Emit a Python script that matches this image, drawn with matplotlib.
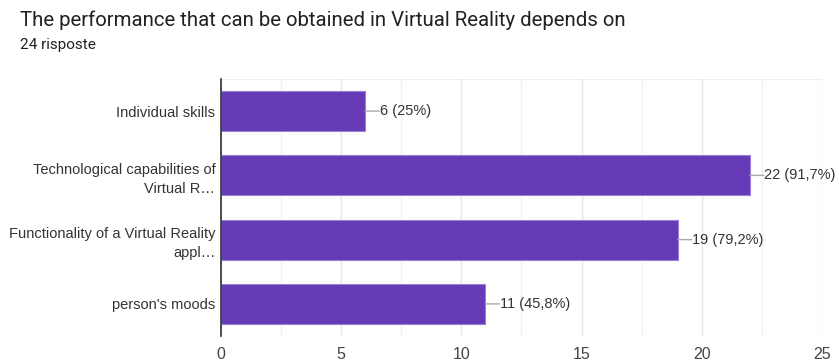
import matplotlib
matplotlib.use("Agg")
import matplotlib.pyplot as plt
import numpy as np

# data
categories = ["Individual skills",
              "Technological capabilities of\nVirtual R\u2026",
              "Functionality of a Virtual Reality\nappl\u2026",
              "person's moods"]
counts = [6, 22, 19, 11]
percents = ["25%", "91,7%", "79,2%", "45,8%"]
total = 24
xticks = [0, 5, 10, 15, 20, 25]

purple = "#673ab7"
chart_font = "Liberation Sans"

fig = plt.figure(figsize=(8.39, 3.62), dpi=100)
ax = fig.add_axes([0.2634, 0.0718, 0.7163, 0.710])

y = np.arange(len(categories))
ax.barh(y, counts, height=0.62, color=purple, edgecolor="#9a7fd6", linewidth=0.8, zorder=3)
ax.set_ylim(len(categories) - 0.5, -0.5)
ax.set_xlim(0, 25)

# grid
ax.set_xticks(xticks)
ax.set_xticks(np.arange(2.5, 25, 5), minor=True)
ax.grid(axis="x", which="major", color="#e6e6e6", linewidth=1, zorder=0)
ax.grid(axis="x", which="minor", color="#f2f2f2", linewidth=1, zorder=0)
ax.tick_params(axis="x", which="both", length=0, pad=8, labelsize=11.5, labelcolor="#444444")
ax.tick_params(axis="y", length=0, pad=4, labelsize=10.5, labelcolor="#333333")
for lab in ax.get_xticklabels():
    lab.set_fontfamily(chart_font)
ax.set_yticks(y)
ax.set_yticklabels(categories, fontfamily=chart_font, ha="right",
                   multialignment="right", linespacing=1.45)

for s in ["top", "right", "bottom"]:
    ax.spines[s].set_visible(False)
ax.spines["left"].set_color("#333333")
ax.spines["left"].set_linewidth(1.2)
ax.spines["left"].set_zorder(4)
ax.axhline(-0.5, color="#eeeeee", lw=1, zorder=0)
ax.axhline(len(categories) - 0.5, color="#eeeeee", lw=1, zorder=0)

# value labels with leader lines
for yi, c, p in zip(y, counts, percents):
    ax.annotate("", xy=(c, yi), xytext=(10, 0), textcoords="offset points",
                arrowprops=dict(arrowstyle="-", color="#aaaaaa", lw=1, shrinkA=0, shrinkB=0))
    ax.annotate(f"{c} ({p})", xy=(c, yi), xytext=(10.5, 0), textcoords="offset points",
                va="center", ha="left", fontsize=10.5, color="#333333", fontfamily=chart_font)

fig.text(0.024, 0.945, "The performance that can be obtained in Virtual Reality depends on",
         fontsize=14.7, color="#202124", fontfamily="Roboto", va="center", ha="left")
fig.text(0.024, 0.876, f"{total} risposte", fontsize=11, color="#202124",
         fontfamily="Roboto", va="center", ha="left")

fig.savefig("out.png", dpi=100)
